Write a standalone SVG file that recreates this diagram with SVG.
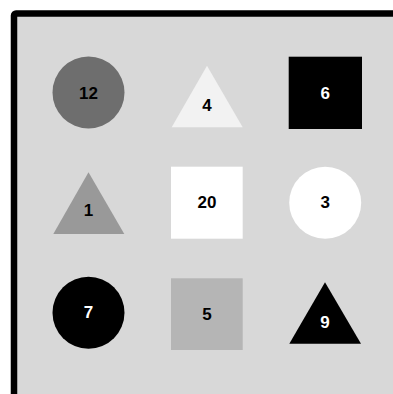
<svg xmlns="http://www.w3.org/2000/svg" width="393" height="394" viewBox="0 0 393 394">
<style>
text{font-family:"Liberation Sans",Arial,sans-serif;font-weight:bold;font-size:17px;text-anchor:middle;dominant-baseline:central}
.d{fill:#000}.w{fill:#fff}
</style>
<rect width="393" height="394" fill="#fff"/>
<rect x="14" y="13.5" width="400" height="400" rx="2" fill="#d8d8d8" stroke="#000" stroke-width="6.5"/>
<g id="n12"><circle cx="88.5" cy="92.5" r="36" fill="#6e6e6e"/><text x="88.5" y="93" class="d">12</text></g>
<g id="n4"><polygon points="207,65.7 171.7,127.3 242.7,127.3" fill="#f2f2f2"/><text x="207" y="105" class="d">4</text></g>
<g id="n6"><rect x="288.7" y="56.7" width="73.3" height="72.3" fill="#000"/><text x="325.3" y="93" class="w">6</text></g>
<g id="n1"><polygon points="88.5,172.3 53.3,234 124.3,234" fill="#999"/><text x="88.5" y="210" class="d">1</text></g>
<g id="n20"><rect x="171" y="166.7" width="71.7" height="72" fill="#fff"/><text x="207" y="202.7" class="d">20</text></g>
<g id="n3"><circle cx="325.2" cy="202.7" r="36" fill="#fff"/><text x="325.2" y="202.7" class="d">3</text></g>
<g id="n7"><circle cx="88.5" cy="312.7" r="36" fill="#000"/><text x="88.5" y="312.7" class="w">7</text></g>
<g id="n5"><rect x="171" y="278.3" width="71.7" height="71.7" fill="#b5b5b5"/><text x="207" y="314" class="d">5</text></g>
<g id="n9"><polygon points="325,282.3 289.3,343.7 361,343.7" fill="#000"/><text x="325" y="322" class="w">9</text></g>
<g id="connectors"/>
</svg>
